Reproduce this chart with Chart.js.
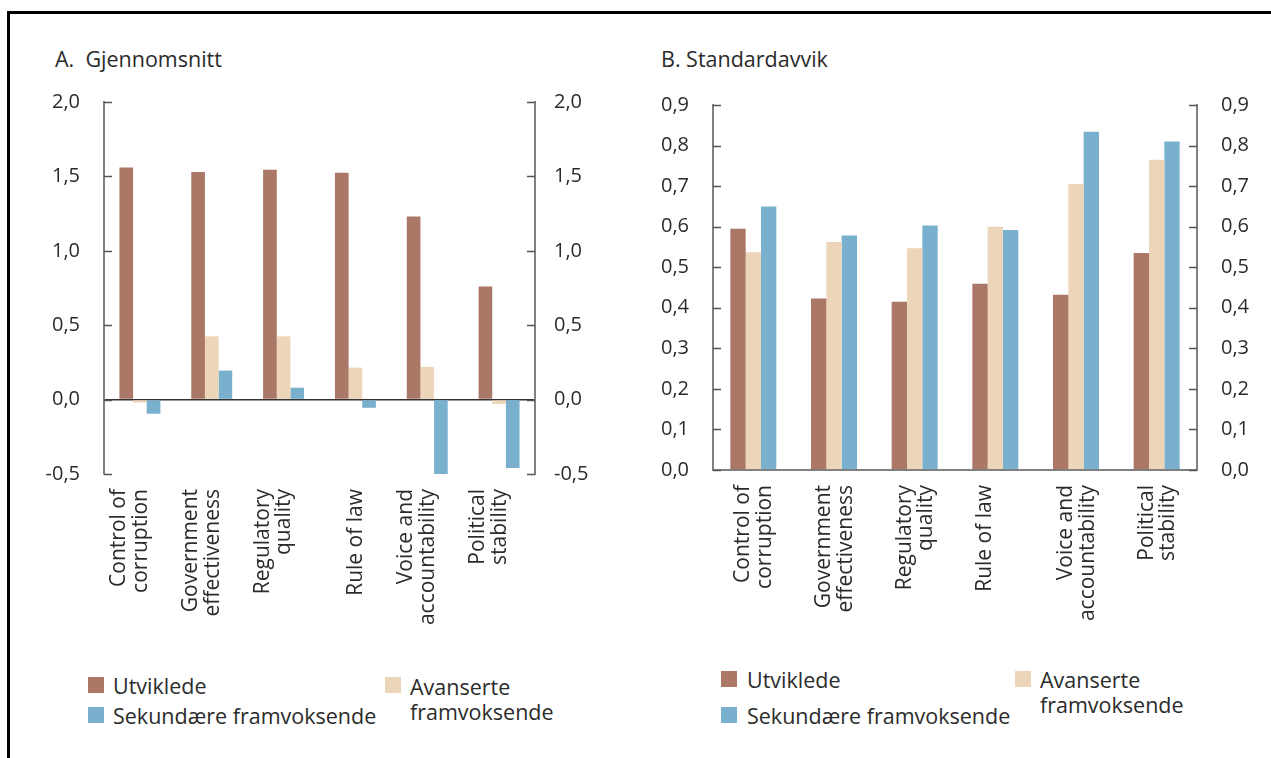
<!DOCTYPE html>
<html lang="no">
<head>
<meta charset="UTF-8">
<title>Gjennomsnitt og standardavvik</title>
<script src="https://cdn.jsdelivr.net/npm/chart.js"></script>
<style>
  body {
    margin: 0;
    background: #fff;
    font-family: 'Open Sans', sans-serif;
    color: #2b2b2b;
    width: 1271px;
    height: 758px;
    overflow: hidden;
    position: relative;
  }
  .ramme {
    position: absolute;
    left: 7px;
    top: 11px;
    width: 1300px;
    height: 800px;
    border-top: 3px solid #000;
    border-left: 3px solid #000;
  }
  .tittel {
    position: absolute;
    font-size: 21.5px;
    line-height: 25px;
    white-space: pre;
  }
  canvas {
    position: absolute;
  }
  .boks {
    position: absolute;
    width: 16px;
    height: 16px;
  }
  .tekst {
    position: absolute;
    font-size: 21.5px;
    line-height: 25px;
    white-space: nowrap;
  }
</style>
</head>
<body>
<div class="ramme"></div>
<div class="tittel" style="left:55px; top:46px;">A.  Gjennomsnitt</div>
<div class="tittel" style="left:661px; top:46px;">B. Standardavvik</div>
<canvas id="chartA" width="580" height="560" style="left:20px; top:66px;"></canvas>
<canvas id="chartB" width="650" height="560" style="left:620px; top:69px;"></canvas>
<div id="legendA"></div>
<div id="legendB"></div>

<script>
  // kategorier og serier (lest av figuren)
  var categories = [
    ['Control of', 'corruption'],
    ['Government', 'effectiveness'],
    ['Regulatory', 'quality'],
    ['Rule of law'],
    ['Voice and', 'accountability'],
    ['Political', 'stability']
  ];
  var seriesNames = ['Utviklede', 'Avanserte framvoksende', 'Sekundære framvoksende'];
  var seriesColors = ['#ab7766', '#ecd5b9', '#78b0ce'];

  // A. Gjennomsnitt
  var gjUtviklede  = [1.56, 1.53, 1.545, 1.525, 1.23, 0.76];
  var gjAvanserte  = [-0.02, 0.425, 0.425, 0.215, 0.22, -0.03];
  var gjSekundaere = [-0.095, 0.195, 0.08, -0.055, -0.50, -0.46];
  var gjTicks = [-0.5, 0.0, 0.5, 1.0, 1.5, 2.0];

  // B. Standardavvik
  var sdUtviklede  = [0.595, 0.423, 0.415, 0.459, 0.432, 0.535];
  var sdAvanserte  = [0.537, 0.562, 0.547, 0.600, 0.705, 0.765];
  var sdSekundaere = [0.650, 0.578, 0.603, 0.592, 0.834, 0.810];
  var sdTicks = [0.0, 0.1, 0.2, 0.3, 0.4, 0.5, 0.6, 0.7, 0.8, 0.9];

  Chart.defaults.font.family = "'Open Sans', sans-serif";
  Chart.defaults.font.size = 20;
  Chart.defaults.color = '#2b2b2b';

  function komma(v) {
    return Number(v).toFixed(1).replace('.', ',');
  }

  // små tick-streker som peker innover i plottet
  var innerTicks = {
    id: 'innerTicks',
    afterDatasetsDraw: function(chart) {
      var ctx = chart.ctx;
      var area = chart.chartArea;
      ctx.save();
      ctx.strokeStyle = '#555';
      ctx.lineWidth = 1.5;
      ['y', 'y2'].forEach(function(id) {
        var sc = chart.scales[id];
        sc.ticks.forEach(function(t) {
          var py = Math.round(sc.getPixelForValue(t.value)) + 0.5;
          ctx.beginPath();
          if (id === 'y') {
            ctx.moveTo(area.left, py);
            ctx.lineTo(area.left + 8, py);
          } else {
            ctx.moveTo(area.right - 8, py);
            ctx.lineTo(area.right, py);
          }
          ctx.stroke();
        });
      });
      ctx.restore();
    }
  };

  function lagChart(id, data, ticks, opt) {
    var datasets = data.map(function(d, i) {
      return {
        label: seriesNames[i],
        data: d,
        backgroundColor: seriesColors[i],
        categoryPercentage: 0.57,
        barPercentage: 1.0
      };
    });
    var lo = ticks[0], hi = ticks[ticks.length - 1];
    var step = ticks[1] - ticks[0];
    function yBase(pad) {
      return {
        min: lo,
        max: hi,
        border: { display: true, color: '#808080', width: 2 },
        ticks: { stepSize: step, callback: komma, padding: pad }
      };
    }
    return new Chart(document.getElementById(id), {
      type: 'bar',
      data: { labels: categories, datasets: datasets },
      options: {
        responsive: false,
        animation: false,
        layout: { padding: { top: opt.top, left: 0, right: 0, bottom: 0 } },
        plugins: { legend: { display: false }, tooltip: { enabled: false } },
        scales: {
          x: {
            grid: { display: false },
            border: { display: false },
            ticks: {
              autoSkip: false,
              minRotation: 90,
              maxRotation: 90,
              padding: opt.xPad,
              labelOffset: opt.labelOffset,
              font: { size: 21, lineHeight: 1.04 },
              callback: function(v, i) {
                var l = categories[i];
                return (opt.padSingle && l.length === 1) ? [''].concat(l) : l;
              }
            },
            afterFit: function(s) { s.height = opt.xHeight; }
          },
          y: Object.assign(yBase(opt.leftPad), {
            position: 'left',
            grid: {
              drawTicks: false,
              lineWidth: opt.zeroWidth,
              color: function(c) {
                return c.tick && c.tick.value === 0 ? opt.zeroColor : 'rgba(0,0,0,0)';
              }
            },
            afterFit: function(s) { s.width = opt.leftW; }
          }),
          y2: Object.assign(yBase(opt.rightPad), {
            position: 'right',
            grid: { drawTicks: false, drawOnChartArea: false },
            afterFit: function(s) { s.width = opt.rightW; }
          })
        }
      },
      plugins: [innerTicks]
    });
  }

  lagChart('chartA', [gjUtviklede, gjAvanserte, gjSekundaere], gjTicks, {
    top: 16, xHeight: 152, leftW: 84, rightW: 65, leftPad: 24, rightPad: 19,
    xPad: 7, labelOffset: -21, padSingle: true, zeroColor: '#333', zeroWidth: 1.5
  });

  lagChart('chartB', [sdUtviklede, sdAvanserte, sdSekundaere], sdTicks, {
    top: 19, xHeight: 159, leftW: 93, rightW: 73, leftPad: 24, rightPad: 24,
    xPad: 7, labelOffset: -10, padSingle: false, zeroColor: '#808080', zeroWidth: 2
  });

  // tegnforklaring, to kolonner som i originalen
  function lagLegend(el, pos) {
    var host = document.getElementById(el);
    pos.forEach(function(p, i) {
      var b = document.createElement('div');
      b.className = 'boks';
      b.style.left = p.bx + 'px';
      b.style.top = p.by + 'px';
      b.style.background = seriesColors[i];
      host.appendChild(b);
      var t = document.createElement('div');
      t.className = 'tekst';
      t.style.left = p.tx + 'px';
      t.style.top = p.ty + 'px';
      t.innerHTML = p.wrap ? seriesNames[i].replace(' ', '<br>') : seriesNames[i];
      host.appendChild(t);
    });
  }

  lagLegend('legendA', [
    { bx: 88, by: 677, tx: 113, ty: 673 },
    { bx: 385, by: 677, tx: 410, ty: 674, wrap: true },
    { bx: 88, by: 707, tx: 113, ty: 703 }
  ]);
  lagLegend('legendB', [
    { bx: 721, by: 671, tx: 747, ty: 667 },
    { bx: 1015, by: 671, tx: 1040, ty: 667, wrap: true },
    { bx: 721, by: 707, tx: 747, ty: 703 }
  ]);
</script>
</body>
</html>
